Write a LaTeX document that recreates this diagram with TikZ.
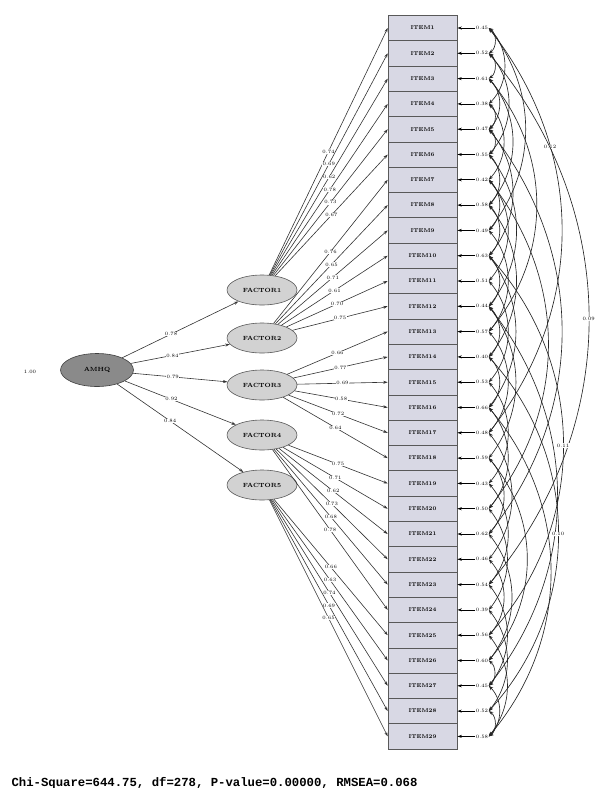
\documentclass[tikz,border=0pt]{standalone}
\usepackage{fontspec}
\newfontfamily\monofont{Liberation Mono}
\usetikzlibrary{arrows.meta,shapes.geometric}
\definecolor{boxfill}{HTML}{D8D8E4}
\definecolor{latfill}{HTML}{D2D2D2}
\definecolor{topfill}{HTML}{8A8A8A}
\begin{document}
\begin{tikzpicture}[x=1pt,y=-1pt,
  itembox/.style={draw=black!65,line width=0.6pt,fill=boxfill,minimum width=69pt,minimum height=25.3pt,inner sep=0pt,font=\fontsize{5.5}{6}\selectfont\bfseries},
  latent/.style={ellipse,draw=black!65,line width=0.6pt,fill=latfill,minimum width=70pt,minimum height=30pt,inner sep=0pt,font=\fontsize{6}{7}\selectfont\bfseries},
  toplat/.style={ellipse,draw=black!75,line width=0.6pt,fill=topfill,minimum width=73pt,minimum height=33pt,inner sep=0pt,font=\fontsize{6}{7}\selectfont\bfseries},
  lab/.style={font=\fontsize{5}{6}\selectfont,inner sep=0.4pt,fill=white},
  errlab/.style={font=\fontsize{5}{6}\selectfont,inner sep=0.5pt},
  load/.style={draw=black!80,line width=0.6pt,-{Stealth[length=4.5pt,width=3pt]}},
  errarr/.style={draw=black,line width=0.8pt,-{Stealth[length=4.5pt,width=3pt]}},
  cov/.style={draw=black!85,line width=0.65pt,{Stealth[length=4.5pt,width=3.4pt]}-{Stealth[length=4.5pt,width=3.4pt]}}]
\useasboundingbox (0,0) rectangle (595,788);

% second-order factor
\node[toplat] (G) at (97,370) {AMHQ};
\node[errlab] (gv) at (30,372) {1.00};

% first-order factors
\node[latent] (F1) at (262,290) {FACTOR1};
\node[latent] (F2) at (262,338) {FACTOR2};
\node[latent] (F3) at (262,385) {FACTOR3};
\node[latent] (F4) at (262,435) {FACTOR4};
\node[latent] (F5) at (262,485) {FACTOR5};

\foreach \f/\v in {1/0.78,2/0.84,3/0.79,4/0.92,5/0.84}
  \draw[load] (G) -- (F\f) node[lab,pos=0.42]{\v};

% items and error terms
\foreach \i/\v in {1/0.45,2/0.52,3/0.61,4/0.38,5/0.47,6/0.55,7/0.42,8/0.58,9/0.49,10/0.63,
                   11/0.51,12/0.44,13/0.57,14/0.40,15/0.53,16/0.66,17/0.48,18/0.59,19/0.43,20/0.50,
                   21/0.62,22/0.46,23/0.54,24/0.39,25/0.56,26/0.60,27/0.45,28/0.52,29/0.58}{
  \pgfmathsetmacro\yy{28+25.3*(\i-1)}
  \node[itembox] (I\i) at (422.5,\yy) {ITEM\i};
  \node[errlab] (e\i) at (482,\yy) {\v};
  \draw[errarr] (e\i.west) -- (I\i.east);
}

% loadings
\foreach \f/\i/\v in {1/1/0.74,1/2/0.69,1/3/0.62,1/4/0.78,1/5/0.73,1/6/0.67,
                      2/7/0.76,2/8/0.65,2/9/0.71,2/10/0.61,2/11/0.70,2/12/0.75,
                      3/13/0.66,3/14/0.77,3/15/0.69,3/16/0.58,3/17/0.72,3/18/0.64,
                      4/19/0.75,4/20/0.71,4/21/0.62,4/22/0.73,4/23/0.68,4/24/0.78,
                      5/25/0.66,5/26/0.63,5/27/0.74,5/28/0.69,5/29/0.65}
  \draw[load] (F\f) -- (I\i.west) node[lab,pos=0.5]{\v};

% error covariances
\foreach \a/\b/\ang in {1/2/55,1/4/45,1/9/38,2/3/55,2/6/42,3/5/45,3/8/40,4/5/55,4/7/42,
                        5/6/55,5/10/40,6/8/45,6/12/38,7/9/45,7/11/40,8/10/45,8/14/38,
                        9/13/40,10/12/45,10/16/37,11/15/40,12/14/45,12/18/37,13/17/40,
                        14/16/45,15/19/40,16/20/40,17/22/38,18/21/42,19/23/40,20/24/38,
                        21/26/38,22/25/42,23/27/38,24/28/38,25/29/38,26/27/50,27/29/45,28/29/55,
                        3/13/40,7/20/38,12/27/38,16/29/40,5/21/38,18/26/40}
  \draw[cov] (e\a.east) to[bend left=\ang] (e\b.east);
\draw[cov] (e1.east) to[bend left=38] node[lab,pos=0.3]{0.12} (e17.east);
\draw[cov] (e2.east) to[bend left=40] node[lab]{0.09} (e23.east);
\draw[cov] (e10.east) to[bend left=42] node[lab]{0.11} (e25.east);
\draw[cov] (e14.east) to[bend left=42] node[lab]{0.10} (e28.east);

\node[anchor=west,font=\monofont\bfseries\fontsize{12.3}{13}\selectfont] (stat) at (8,783)
  {Chi-Square=644.75, df=278, P-value=0.00000, RMSEA=0.068};
\end{tikzpicture}
\end{document}
